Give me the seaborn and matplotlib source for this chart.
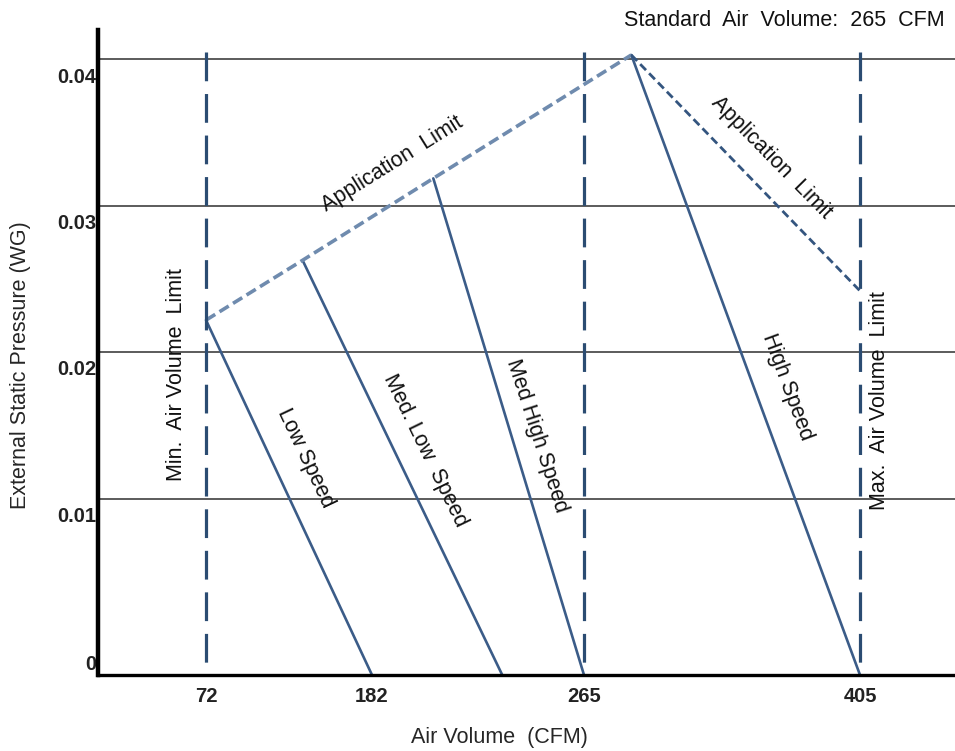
import numpy as np
import pandas as pd
import matplotlib
matplotlib.use("Agg")
import matplotlib.pyplot as plt
import matplotlib.transforms as mtransforms
import seaborn as sns

# the x axis is schematic: the CFM ticks are not spaced evenly, so a
# piecewise scale maps CFM onto the drawn positions
cfm_ticks = [72, 182, 265, 405]
cfm_anchor = [0, 72, 182, 265, 405, 453]
cfm_anchor_pos = [0, 108, 274, 486, 762, 857]

esp_ticks = [0, 0.01, 0.02, 0.03, 0.04]
esp_tick_labels = ["0", "0.01", "0.02", "0.03", "0.04"]
esp_anchor = [0, 0.01, 0.02, 0.03, 0.04, 0.05]
esp_anchor_pos = [0, 176, 323, 469, 616, 763]

# fan speed curves (top end sits on the application limit)
speed_names = ["Low Speed", "Med. Low Speed", "Med High Speed", "High Speed"]
speed_top_cfm = [72, 136, 206, 289]
speed_top_esp = [0.0222, 0.0263, 0.0319, 0.0403]
speed_bottom_cfm = [182, 233, 265, 405]
speed_bottom_esp = [0, 0, 0, 0]

# application limit on the right hand side
app_right_cfm = [289, 405]
app_right_esp = [0.0403, 0.0242]

# min / standard / max air volume limits
limit_cfm = [72, 265, 405]
limit_top_esp = 0.0405

LINE = "#3b5c88"
LIMIT = "#2b4c72"
APP_LEFT = "#6f8bae"
APP_RIGHT = "#34557f"

sns.set_style("white")
plt.rcParams["font.family"] = ["Liberation Sans", "DejaVu Sans"]

fig = plt.figure(figsize=(9.55, 7.51), dpi=100)
ax = fig.add_axes([98 / 955, 76 / 751, 857 / 955, 645 / 751])

speed_df = pd.DataFrame({
    "curve": np.repeat(speed_names, 2),
    "cfm": np.column_stack([speed_top_cfm, speed_bottom_cfm]).ravel(),
    "esp": np.column_stack([speed_top_esp, speed_bottom_esp]).ravel(),
})

sns.lineplot(data=speed_df, x="cfm", y="esp", units="curve", estimator=None,
             sort=False, color=LINE, lw=1.9, legend=False, ax=ax)
sns.lineplot(x=speed_top_cfm, y=speed_top_esp, sort=False, color=APP_LEFT,
             lw=2.6, linestyle=(0, (3, 1.4)), ax=ax)
sns.lineplot(x=app_right_cfm, y=app_right_esp, sort=False, color=APP_RIGHT,
             lw=2.0, linestyle=(0, (3, 1.6)), ax=ax)
# drawn top-down so the dash pattern starts at the top like the reference
ax.vlines(limit_cfm, limit_top_esp, 0, colors=LIMIT, lw=2.3,
          linestyles=[(0, (9, 4))])

ax.set_xscale("function", functions=(
    lambda v: np.interp(v, cfm_anchor, cfm_anchor_pos),
    lambda p: np.interp(p, cfm_anchor_pos, cfm_anchor)))
ax.set_yscale("function", functions=(
    lambda v: np.interp(v, esp_anchor, esp_anchor_pos),
    lambda p: np.interp(p, esp_anchor_pos, esp_anchor)))
ax.set_xlim(0, 453)
ax.set_ylim(0, 0.042)

ax.set_xticks(cfm_ticks)
ax.set_xticklabels([str(c) for c in cfm_ticks])
ax.set_yticks(esp_ticks)
ax.set_yticklabels(esp_tick_labels)
ax.minorticks_off()
ax.grid(axis="y", color="#404040", lw=1.2)
ax.grid(axis="x", visible=False)

for side in ["top", "right"]:
    ax.spines[side].set_visible(False)
ax.spines["left"].set_linewidth(3.2)
ax.spines["bottom"].set_linewidth(2.4)
ax.spines["left"].set_color("black")
ax.spines["bottom"].set_color("black")

ax.tick_params(axis="both", length=0, labelsize=14.5, colors="#222222")
ax.tick_params(axis="x", pad=9)
ax.tick_params(axis="y", pad=1)
for lab in ax.get_xticklabels() + ax.get_yticklabels():
    lab.set_fontweight("bold")

# y tick labels sit under their grid lines, the 0 just above the axis
for tick, dy in zip(ax.yaxis.get_major_ticks(), [13, -15, -15, -15, -16]):
    tick.label1.set_transform(tick.label1.get_transform() +
                              mtransforms.ScaledTranslation(0, dy / fig.dpi, fig.dpi_scale_trans))

ax.set_xlabel("Air Volume  (CFM)", fontsize=15.5)
ax.set_ylabel("External Static Pressure (WG)", fontsize=15.5)
ax.xaxis.set_label_coords(0.469, -0.081)
ax.yaxis.set_label_coords(-0.078, 0.48)

txt = dict(fontsize=15.5, ha="center", va="center", color="#111111",
           rotation_mode="anchor")
ax.text(137.6, 0.0128, "Low Speed", rotation=-64.7, **txt)
ax.text(202.7, 0.0133, "Med. Low  Speed", rotation=-64, **txt)
ax.text(246.6, 0.0143, "Med High Speed", rotation=-72, **txt)
ax.text(368, 0.0176, "High Speed", rotation=-69.7, **txt)
ax.text(190, 0.0329, "Application  Limit", rotation=32, **txt)
ax.text(360, 0.0333, "Application  Limit", rotation=-45.5, **txt)
ax.text(52, 0.0185, "Min.  Air Volume  Limit", rotation=90, **txt)
ax.text(415, 0.0167, "Max.  Air Volume  Limit", rotation=90, **txt)

fig.text(945 / 955, 1 - 20 / 751, "Standard  Air  Volume:  265  CFM",
         fontsize=15.5, ha="right", va="center", color="#111111")

fig.savefig("out.png", dpi=100)
